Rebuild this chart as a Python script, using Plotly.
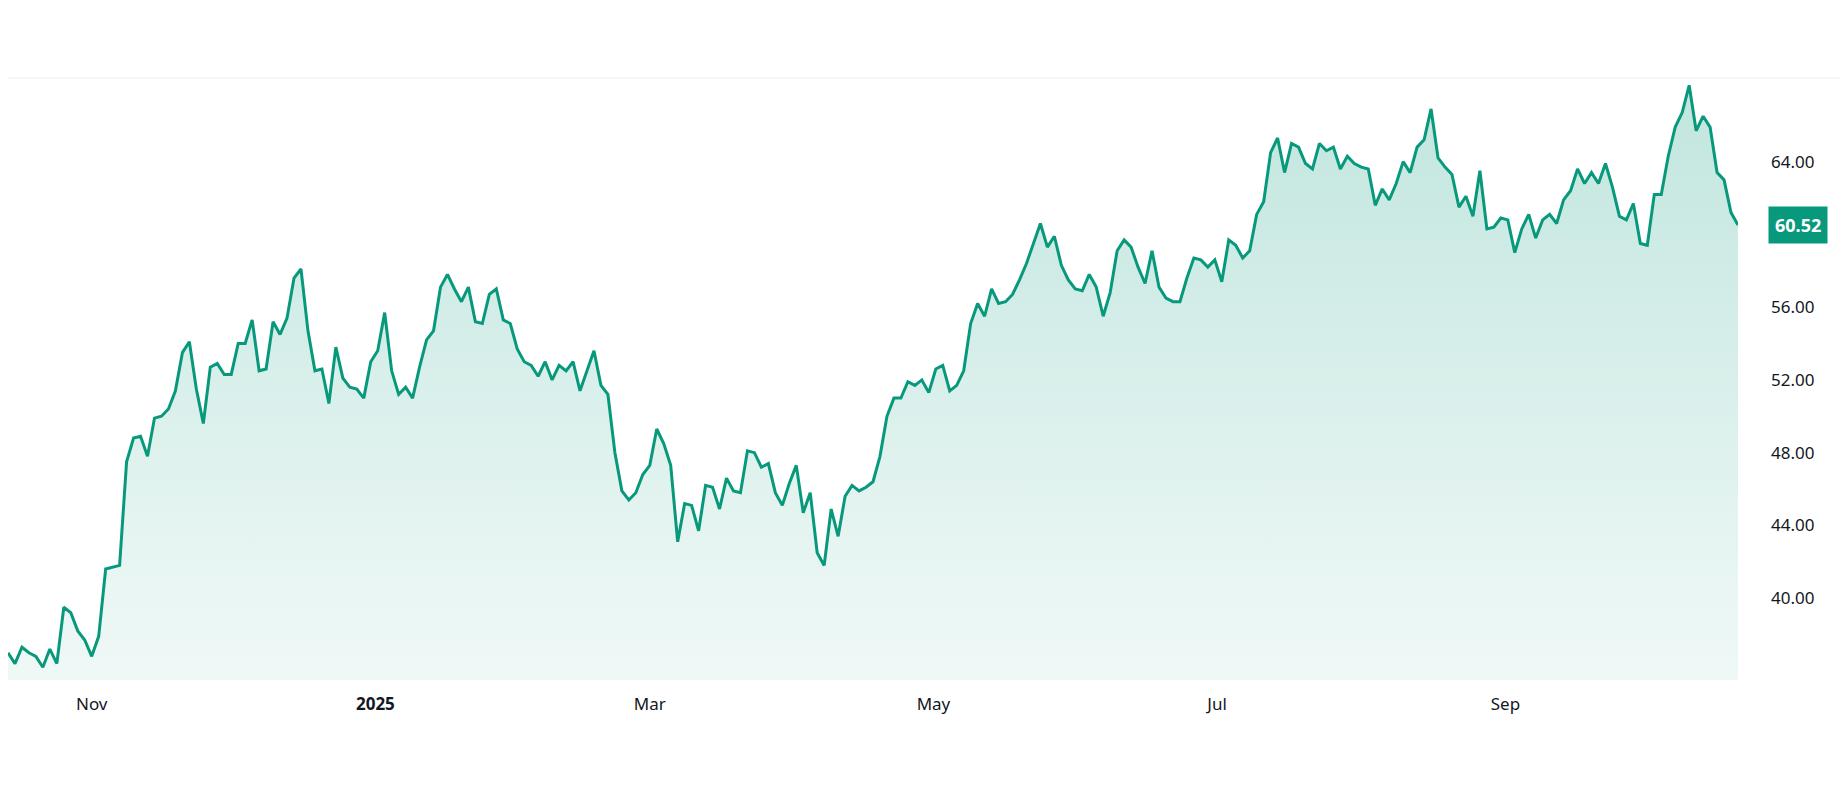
import pandas as pd
import plotly.graph_objects as go

# closing prices, Oct 2024 - Oct 2025
prices = [
    37.0, 36.4, 37.3, 37.0, 36.8, 36.2, 37.2, 36.4, 39.5, 39.2, 38.2, 37.7, 36.8, 37.9,
    41.6, 41.7, 41.8, 47.5, 48.8, 48.9, 47.8, 49.9, 50.0, 50.4, 51.4, 53.5, 54.1, 51.5,
    49.6, 52.7, 52.9, 52.3, 52.3, 54.0, 54.0, 55.3, 52.5, 52.6, 55.2, 54.5, 55.4, 57.6,
    58.1, 54.7, 52.5, 52.6, 50.7, 53.8, 52.1, 51.6, 51.5, 51.0, 53.0, 53.6, 55.7, 52.5,
    51.2, 51.6, 51.0, 52.7, 54.2, 54.7, 57.1, 57.8, 57.0, 56.3, 57.1, 55.2, 55.1, 56.7,
    57.0, 55.3, 55.1, 53.7, 53.0, 52.8, 52.2, 53.0, 52.0, 52.8, 52.5, 53.0, 51.4, 52.5,
    53.6, 51.7, 51.2, 48.0, 45.9, 45.4, 45.8, 46.8, 47.3, 49.3, 48.5, 47.3, 43.1, 45.2,
    45.1, 43.7, 46.2, 46.1, 44.9, 46.6, 45.9, 45.8, 48.1, 48.0, 47.2, 47.4, 45.8, 45.1,
    46.3, 47.3, 44.7, 45.8, 42.5, 41.8, 44.9, 43.4, 45.6, 46.2, 45.9, 46.1, 46.4, 47.8,
    50.0, 51.0, 51.0, 51.9, 51.7, 52.0, 51.3, 52.6, 52.8, 51.4, 51.7, 52.5, 55.1, 56.2,
    55.5, 57.0, 56.2, 56.3, 56.7, 57.5, 58.4, 59.5, 60.6, 59.3, 59.9, 58.3, 57.5, 57.0,
    56.9, 57.8, 57.1, 55.5, 56.8, 59.1, 59.7, 59.3, 58.2, 57.3, 59.1, 57.1, 56.5, 56.3,
    56.3, 57.6, 58.7, 58.6, 58.2, 58.6, 57.4, 59.7, 59.4, 58.7, 59.1, 61.1, 61.8, 64.5,
    65.3, 63.4, 65.0, 64.8, 63.9, 63.6, 65.0, 64.6, 64.8, 63.6, 64.3, 63.9, 63.7, 63.6,
    61.6, 62.5, 61.9, 62.8, 64.0, 63.4, 64.8, 65.2, 66.9, 64.2, 63.7, 63.3, 61.5, 62.1,
    61.0, 63.5, 60.3, 60.4, 60.9, 60.8, 59.0, 60.3, 61.1, 59.8, 60.8, 61.1, 60.6, 61.9,
    62.4, 63.6, 62.8, 63.4, 62.8, 63.9, 62.6, 61.0, 60.8, 61.7, 59.5, 59.4, 62.2, 62.2,
    64.3, 65.9, 66.7, 68.2, 65.7, 66.5, 65.9, 63.4, 63.0, 61.2, 60.52,
]
start_date = "2024-10-14"
end_date = "2025-10-21"
dates = pd.date_range(start_date, end_date, periods=len(prices))

# 60.00 is hidden behind the last-price tag in the original
y_ticks = [40, 44, 48, 52, 56, 64]
x_ticks = ["2024-11-01", "2025-01-01", "2025-03-01", "2025-05-01", "2025-07-01", "2025-09-01"]
x_labels = ["Nov", "<b>2025</b>", "Mar", "May", "Jul", "Sep"]

green = "rgb(8,153,124)"
font = "Noto Sans, Open Sans, sans-serif"

fig = go.Figure(go.Scatter(
    x=dates, y=prices, mode="lines",
    line=dict(color=green, width=3),
    fill="tozeroy",
    fillgradient=dict(type="vertical", colorscale=[
        [0.0, "rgba(8,153,124,0.0)"],
        [0.3, "rgba(8,153,124,0.0)"],
        [0.6, "rgba(8,153,124,0.09)"],
        [1.0, "rgba(8,153,124,0.25)"],
    ]),
    hoverinfo="skip",
))

fig.update_layout(
    width=1848, height=809,
    paper_bgcolor="white", plot_bgcolor="white",
    margin=dict(l=0, r=118, t=70, b=137),
    showlegend=False,
    font=dict(family=font, size=17, color="#131722"),
    xaxis=dict(
        range=[dates[0], dates[-1]],
        tickvals=x_ticks, ticktext=x_labels,
        showgrid=False, zeroline=False, showline=False, ticks="",
        ticklabelstandoff=12,
    ),
    yaxis=dict(
        side="right", range=[35.5, 68.6],
        tickvals=y_ticks, tickformat=".2f",
        showgrid=False, zeroline=False, showline=False, ticks="",
        ticklabelstandoff=32,
    ),
    shapes=[dict(type="line", xref="paper", yref="paper", x0=0, x1=1.07, y0=1, y1=1,
                 line=dict(color="#ececec", width=1))],
    annotations=[dict(
        xref="paper", yref="y", x=1.0, y=prices[-1], xanchor="left", yanchor="middle",
        xshift=30, text="<b>60.52</b>", showarrow=False,
        font=dict(color="white", size=18, family=font),
        bgcolor=green, borderpad=6,
    )],
)

fig.write_html("out.html")
